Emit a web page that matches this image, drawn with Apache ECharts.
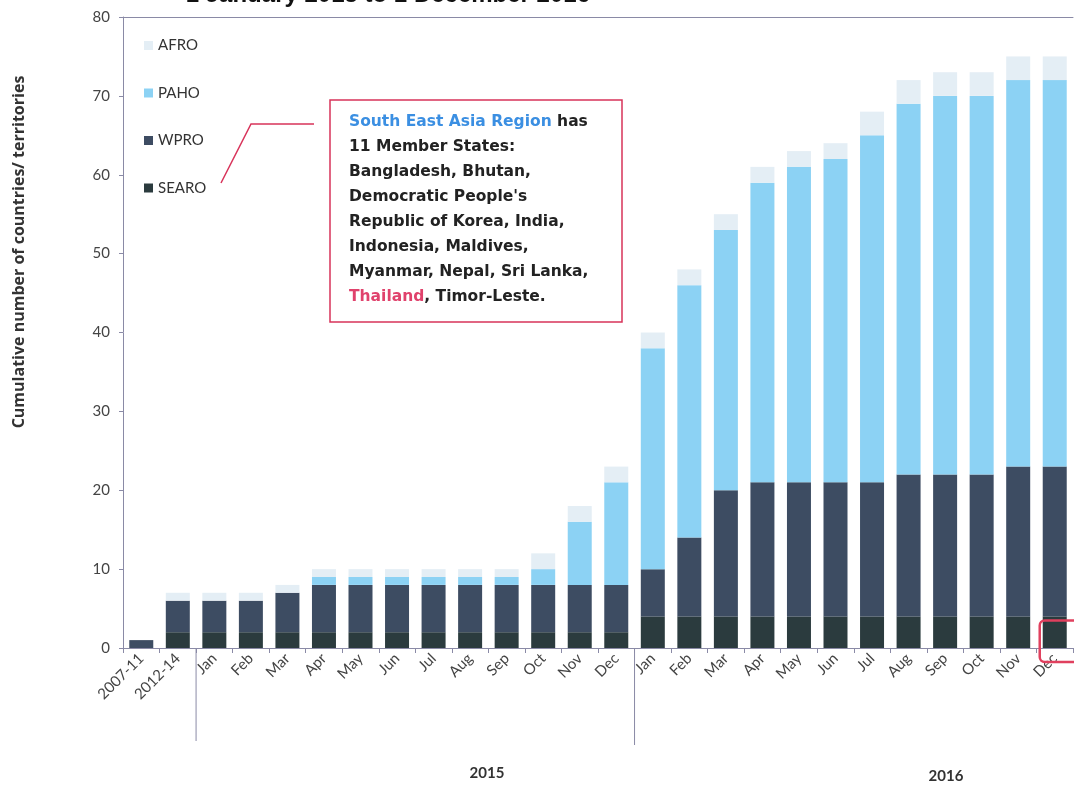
<!DOCTYPE html>
<html>
<head>
<meta charset="utf-8">
<script src="https://cdn.jsdelivr.net/npm/echarts@6/dist/echarts.min.js"></script>
<style>
  html, body { margin: 0; padding: 0; background: #fff; }
  #chart { width: 1074px; height: 786px; }
</style>
</head>
<body>
<div id="chart"></div>
<script>
// categories: two early periods, then months of 2015 and 2016
const categories = ['2007-11', '2012-14',
  'Jan', 'Feb', 'Mar', 'Apr', 'May', 'Jun', 'Jul', 'Aug', 'Sep', 'Oct', 'Nov', 'Dec',
  'Jan', 'Feb', 'Mar', 'Apr', 'May', 'Jun', 'Jul', 'Aug', 'Sep', 'Oct', 'Nov', 'Dec'];

// cumulative countries/territories by WHO region
const searo = [0, 2, 2, 2, 2, 2, 2, 2, 2, 2, 2, 2, 2, 2, 4, 4, 4, 4, 4, 4, 4, 4, 4, 4, 4, 4];
const wpro  = [1, 4, 4, 4, 5, 6, 6, 6, 6, 6, 6, 6, 6, 6, 6, 10, 16, 17, 17, 17, 17, 18, 18, 18, 19, 19];
const paho  = [0, 0, 0, 0, 0, 1, 1, 1, 1, 1, 1, 2, 8, 13, 28, 32, 33, 38, 40, 41, 44, 47, 48, 48, 49, 49];
const afro  = [0, 1, 1, 1, 1, 1, 1, 1, 1, 1, 1, 2, 2, 2, 2, 2, 2, 2, 2, 2, 3, 3, 3, 3, 3, 3];

const yTicks = { min: 0, max: 80, interval: 10 };
const yearLabels = ['2015', '2016'];
const yName = 'Cumulative number of countries/ territories';

const colors = { SEARO: '#2b3b3e', WPRO: '#3d4c62', PAHO: '#8cd2f4', AFRO: '#e4eef5' };
const axisColor = '#8a8aa6';
const labelFont = 'Lato';

const chart = echarts.init(document.getElementById('chart'));

const makeSeries = (name, data) => ({
  name: name,
  type: 'bar',
  stack: 'total',
  data: data,
  barWidth: 24,
  itemStyle: { color: colors[name] }
});

const option = {
  backgroundColor: '#fff',
  animation: false,
  grid: { left: 123, right: 1, top: 17, bottom: 138 },
  legend: {
    data: ['AFRO', 'PAHO', 'WPRO', 'SEARO'],
    orient: 'vertical',
    left: 139,
    top: 33,
    itemWidth: 9,
    itemHeight: 9,
    itemGap: 32.5,
    icon: 'rect',
    textStyle: { fontFamily: labelFont, fontSize: 15, color: '#333' }
  },
  xAxis: [{
    type: 'category',
    data: categories,
    axisLine: { lineStyle: { color: axisColor } },
    axisTick: { show: true, length: 5, lineStyle: { color: axisColor } },
    axisLabel: {
      rotate: 45, interval: 0, margin: 8,
      fontFamily: labelFont, fontSize: 15, color: '#444'
    }
  }, {
    type: 'category',
    position: 'top',
    data: categories,
    axisLine: { show: true, lineStyle: { color: axisColor } },
    axisTick: { show: false },
    axisLabel: { show: false }
  }],
  yAxis: {
    type: 'value',
    min: yTicks.min, max: yTicks.max, interval: yTicks.interval,
    axisLine: { show: true, lineStyle: { color: axisColor } },
    axisTick: { show: true, length: 4, lineStyle: { color: axisColor } },
    axisLabel: { margin: 13, fontFamily: labelFont, fontSize: 15, color: '#444' },
    splitLine: { show: false }
  },
  series: [
    makeSeries('SEARO', searo),
    makeSeries('WPRO', wpro),
    makeSeries('PAHO', paho),
    makeSeries('AFRO', afro)
  ]
};

chart.setOption(option);

// extra drawing: year separators, year labels, annotation box, highlight box
const px = (i) => chart.convertToPixel({ xAxisIndex: 0 }, i);
const py = (v) => chart.convertToPixel({ yAxisIndex: 0 }, v);
const base = py(0);
const sep1 = (px(1) + px(2)) / 2;
const sep2 = (px(13) + px(14)) / 2;
const lastX = px(categories.length - 1);

const noteText = '{b|South East Asia Region} has\n11 Member States:\nBangladesh, Bhutan,\nDemocratic People\'s\nRepublic of Korea, India,\nIndonesia, Maldives,\nMyanmar, Nepal, Sri Lanka,\n{r|Thailand}, Timor-Leste.';
const noteFont = 'bold 15.5px "DejaVu Sans", sans-serif';

chart.setOption({
  graphic: [
    { type: 'line', shape: { x1: sep1, y1: base, x2: sep1, y2: 741 },
      style: { stroke: axisColor, lineWidth: 1 } },
    { type: 'line', shape: { x1: sep2, y1: base, x2: sep2, y2: 745 },
      style: { stroke: axisColor, lineWidth: 1 } },
    { type: 'text', x: 487, y: 773,
      style: { text: yearLabels[0], font: 'bold 15px Lato', fill: '#333', align: 'center', verticalAlign: 'middle' } },
    { type: 'text', x: 946, y: 776,
      style: { text: yearLabels[1], font: 'bold 15px Lato', fill: '#333', align: 'center', verticalAlign: 'middle' } },
    { type: 'text', x: 19, y: 252, rotation: Math.PI / 2,
      style: { text: yName, font: 'bold 16px "Open Sans"', fill: '#333', align: 'center', verticalAlign: 'middle' } },
    { type: 'rect', shape: { x: 330, y: 100, width: 292, height: 222 },
      style: { fill: '#fff', stroke: '#d8335a', lineWidth: 1.5 }, z: 10 },
    { type: 'text', x: 349, y: 109, z: 11,
      style: {
        text: noteText, font: noteFont, fill: '#222', lineHeight: 25,
        rich: {
          b: { font: noteFont, fill: '#3b8fe2', lineHeight: 25 },
          r: { font: noteFont, fill: '#e0426c', lineHeight: 25 }
        }
      } },
    { type: 'polyline', shape: { points: [[221, 183], [251, 124], [314, 124]] },
      style: { stroke: '#d8335a', lineWidth: 1.5, fill: null }, z: 10 },
    { type: 'rect', shape: { x: lastX - 15, y: py(4) + 4, width: 40, height: base - py(4) + 10, r: 5 },
      style: { fill: null, stroke: '#e0405e', lineWidth: 2.5 }, z: 10 },
    { type: 'text', x: 590, y: -17,
      style: { text: '1 January 2015 to 1 December 2016', font: 'bold 24px "Liberation Sans", Arial', fill: '#111', align: 'right' } }
  ]
});
</script>
</body>
</html>
